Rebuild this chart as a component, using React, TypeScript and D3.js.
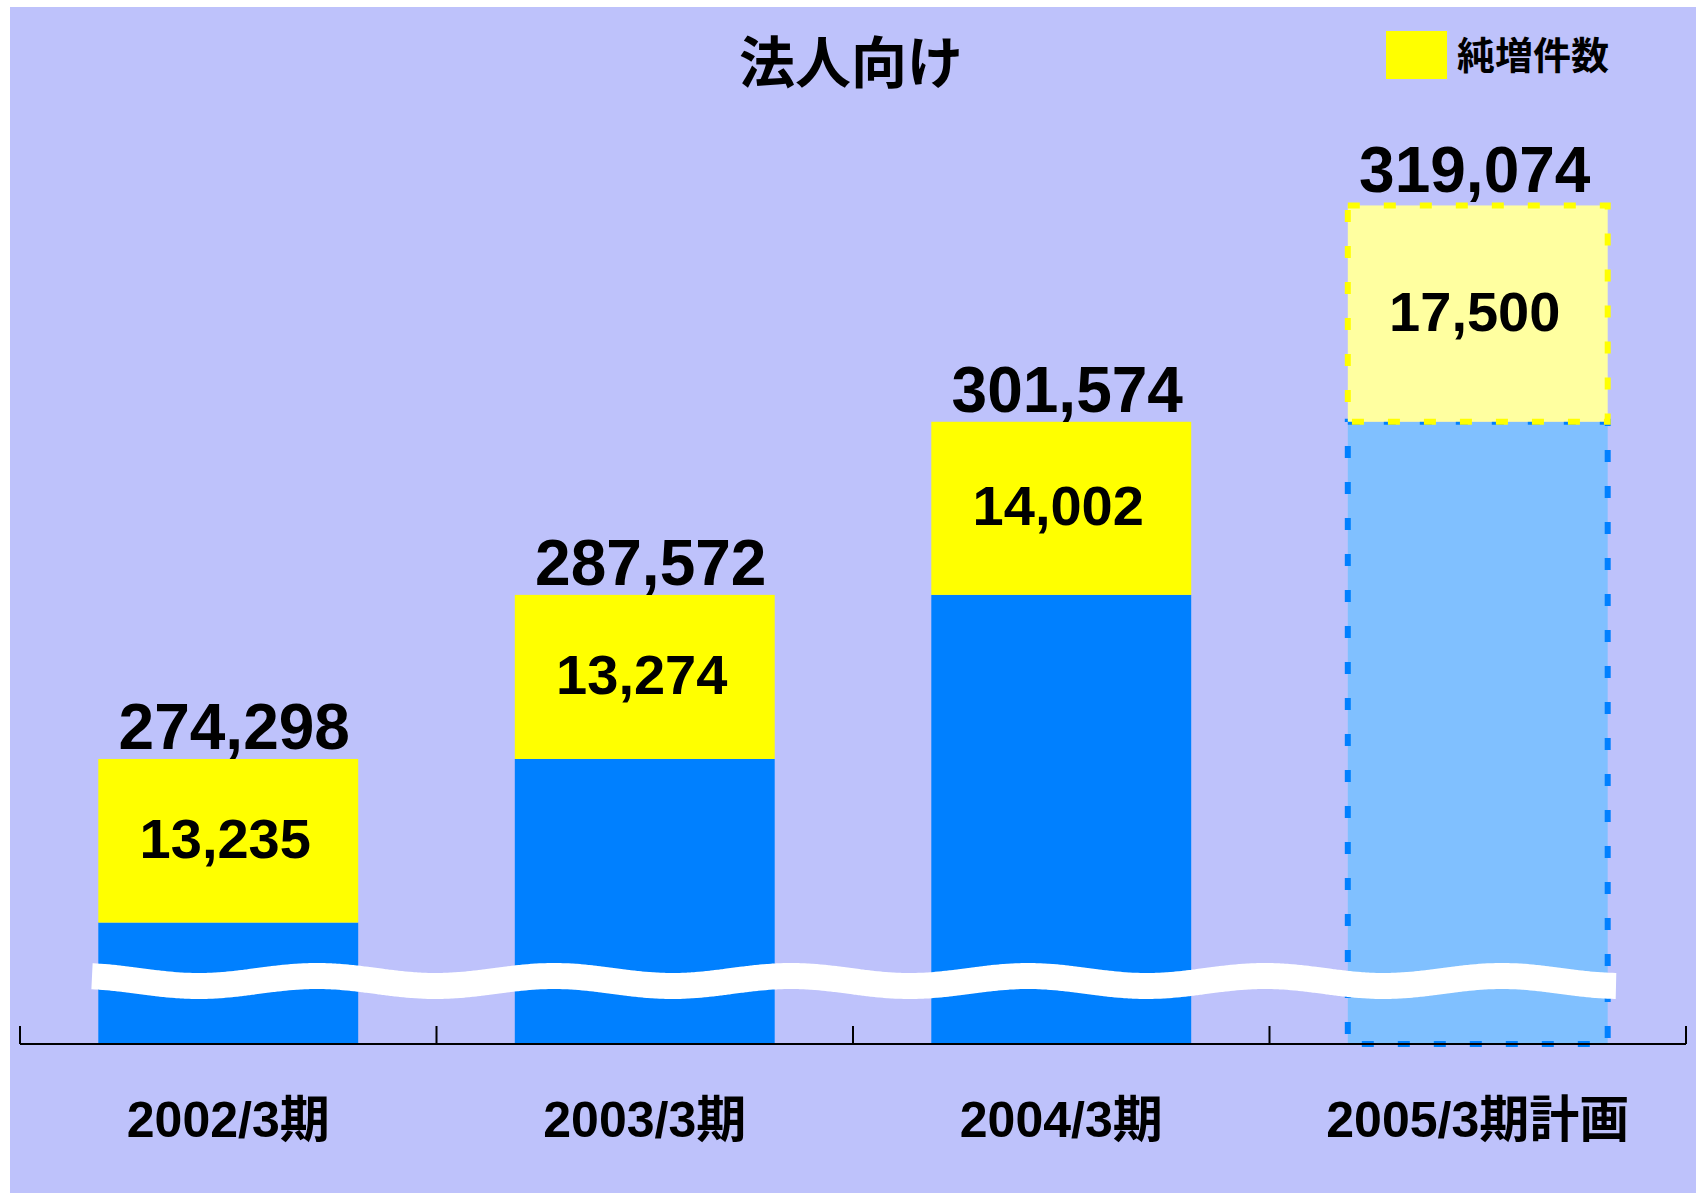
import React from "react";
import * as d3 from "d3";

const categories = ["2002/3期", "2003/3期", "2004/3期", "2005/3期計画"];
const totals = [274298, 287572, 301574, 319074];
const increases = [13235, 13274, 14002, 17500];
const isPlan = [false, false, false, true];
const title = "法人向け";
const legendLabel = "純増件数";
const axisBase = 251240; // value at the broken baseline
const axisTop = 320000;

const W = 1696;
const H = 1193;
const BG = "#BEC2FB";
const BLUE = "#0080FF";
const YELLOW = "#FFFF00";
const PLAN_BLUE = "#80C0FF";
const PLAN_YELLOW = "#FFFFA0";
const NUM_FONT = "'Liberation Sans', Arial, 'Noto Sans CJK JP', sans-serif";
const CJK_FONT = "'Noto Sans CJK JP', 'Liberation Sans', sans-serif";

export default function App() {
  const x = d3
    .scaleBand<string>()
    .domain(categories)
    .range([20, 1686])
    .paddingInner(0.376)
    .paddingOuter(0.188);
  const y = d3.scaleLinear().domain([axisBase, axisTop]).range([1044, 194]);
  const fmt = d3.format(",");

  const baseY = y(axisBase);
  const half = (x.step() - x.bandwidth()) / 2;
  const boundaries = categories.map((c) => (x(c) as number) - half);
  boundaries.push((x(categories[categories.length - 1]) as number) + x.bandwidth() + half);

  // decorative break (wave) marker
  const wavePts: [number, number][] = [];
  for (let px = 92; px <= 1617; px += 4) {
    wavePts.push([px, 981 - 5 * Math.cos((2 * Math.PI * (px - 317)) / 237)]);
  }
  const wavePath = d3.line().curve(d3.curveBasis)(wavePts) as string;

  return (
    <svg
      width={W}
      height={H}
      style={{ position: "absolute", left: 0, top: 0 }}
      xmlns="http://www.w3.org/2000/svg"
    >
      <rect x={0} y={0} width={W} height={H} fill="#FFFFFF" />
      <rect x={10} y={7} width={W - 10} height={H - 7} fill={BG} />

      {/* title */}
      <text
        x={851}
        y={83}
        textAnchor="middle"
        fontFamily={CJK_FONT}
        fontWeight="bold"
        fontSize={56}
        fill="#000"
      >
        {title}
      </text>

      {/* legend */}
      <rect x={1386} y={31} width={61} height={48} fill={YELLOW} />
      <text x={1457} y={69} fontFamily={CJK_FONT} fontWeight="bold" fontSize={38} fill="#000">
        {legendLabel}
      </text>

      {/* bars */}
      {categories.map((c, i) => {
        const bx = x(c) as number;
        const bw = x.bandwidth();
        const yTop = y(totals[i]);
        const yMid = y(totals[i] - increases[i]);
        const plan = isPlan[i];
        return (
          <g key={c}>
            <rect
              x={bx}
              y={yMid}
              width={bw}
              height={baseY - yMid}
              fill={plan ? PLAN_BLUE : BLUE}
              stroke={plan ? BLUE : "none"}
              strokeWidth={plan ? 6 : 0}
              strokeDasharray={plan ? "12 24" : undefined}
            />
            <rect
              x={bx}
              y={yTop}
              width={bw}
              height={yMid - yTop}
              fill={plan ? PLAN_YELLOW : YELLOW}
              stroke={plan ? YELLOW : "none"}
              strokeWidth={plan ? 6 : 0}
              strokeDasharray={plan ? "12 24" : undefined}
            />
          </g>
        );
      })}

      {/* break marker */}
      <path d={wavePath} fill="none" stroke="#FFFFFF" strokeWidth={26} strokeLinecap="butt" />

      {/* labels */}
      {categories.map((c, i) => {
        const cx = (x(c) as number) + x.bandwidth() / 2;
        const yTop = y(totals[i]);
        const yMid = y(totals[i] - increases[i]);
        return (
          <g key={"l" + c}>
            <text
              x={cx + (isPlan[i] ? -3 : 6)}
              y={yTop - (isPlan[i] ? 13 : 10)}
              textAnchor="middle"
              fontFamily={NUM_FONT}
              fontWeight="bold"
              fontSize={64}
              fill="#000"
            >
              {fmt(totals[i])}
            </text>
            <text
              x={cx - 3}
              y={(yTop + yMid) / 2 + 17}
              textAnchor="middle"
              fontFamily={NUM_FONT}
              fontWeight="bold"
              fontSize={56}
              fill="#000"
            >
              {fmt(increases[i])}
            </text>
            <text
              x={cx}
              y={1137}
              textAnchor="middle"
              fontFamily={NUM_FONT}
              fontWeight="bold"
              fontSize={50}
              fill="#000"
            >
              {c}
            </text>
          </g>
        );
      })}

      {/* axis */}
      <line x1={boundaries[0]} x2={boundaries[boundaries.length - 1]} y1={baseY} y2={baseY} stroke="#000" strokeWidth={2} />
      {boundaries.map((b, i) => (
        <line key={"t" + i} x1={b} x2={b} y1={baseY} y2={baseY - 18} stroke="#000" strokeWidth={2} />
      ))}
    </svg>
  );
}
